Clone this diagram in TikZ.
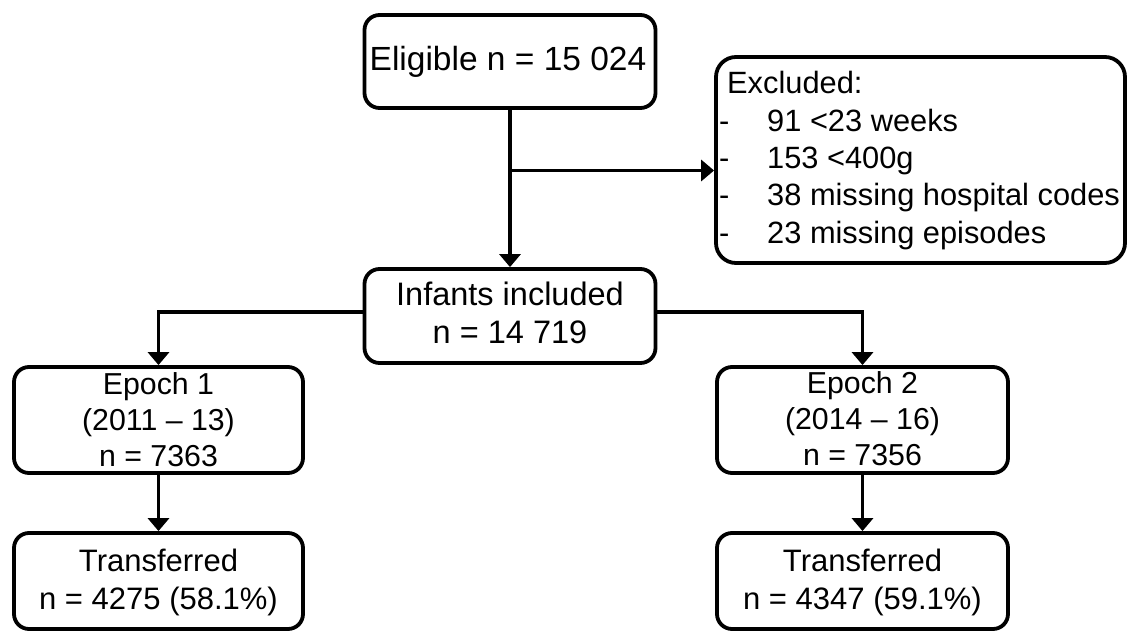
\documentclass[tikz,border=0pt]{standalone}
\usepackage{fontspec}
\setmainfont{Liberation Sans}
\usetikzlibrary{arrows.meta}
\begin{document}
\begin{tikzpicture}[x=1pt,y=-1pt,
  box/.style={draw=black, line width=3.8pt, rounded corners=15pt, inner sep=0pt},
  flow/.style={line width=3.8pt, -{Triangle[length=13pt,width=21pt]}},
  txt/.style={inner sep=0pt, anchor=base, font=\fontsize{30.3pt}{36pt}\selectfont},
]
\useasboundingbox (0,0) rectangle (1128,634);
\fill[white] (0,0) rectangle (1128,634);

% boxes
\node[box, minimum width=291pt, minimum height=93pt]  (elig) at (510,61.5) {};
\node[box, minimum width=409pt, minimum height=206pt, rounded corners=20pt] (excl) at (920.5,160) {};
\node[box, minimum width=291pt, minimum height=94pt]  (inc)  at (510,316) {};
\node[box, minimum width=289pt, minimum height=106pt] (ep1)  at (158.5,420) {};
\node[box, minimum width=291pt, minimum height=106pt] (ep2)  at (862.5,420) {};
\node[box, minimum width=289pt, minimum height=96pt]  (tr1)  at (158.5,581) {};
\node[box, minimum width=291pt, minimum height=96pt]  (tr2)  at (862.5,581) {};

% texts
\node[txt, font=\fontsize{33.5pt}{38pt}\selectfont] (eligt) at (508,71) {Eligible n = 15 024};
\node[txt, anchor=base west, font=\fontsize{30.8pt}{37.3pt}\selectfont] (exclt) at (719,94)
  {\begin{tabular}[t]{@{}l@{}l@{}}
   \multicolumn{2}{@{\hspace{8pt}}l@{}}{Excluded:}\\
   \makebox[48pt][l]{-} & 91 <23 weeks\\
   \makebox[48pt][l]{-} & 153 <400g\\
   \makebox[48pt][l]{-} & 38 missing hospital codes\\
   \makebox[48pt][l]{-} & 23 missing episodes
   \end{tabular}};
\node[txt, font=\fontsize{32.5pt}{38pt}\selectfont] (inct) at (510,305)
  {\begin{tabular}[t]{@{}c@{}}Infants included\\n = 14 719\end{tabular}};
\node[txt] (ep1t) at (158.5,394)
  {\begin{tabular}[t]{@{}c@{}}Epoch 1\\(2011 -- 13)\\n = 7363\end{tabular}};
\node[txt] (ep2t) at (862.5,393)
  {\begin{tabular}[t]{@{}c@{}}Epoch 2\\(2014 -- 16)\\n = 7356\end{tabular}};
\node[txt, font=\fontsize{31pt}{38.5pt}\selectfont] (tr1t) at (158.5,571)
  {\begin{tabular}[t]{@{}c@{}}Transferred\\n = 4275 (58.1\%)\end{tabular}};
\node[txt, font=\fontsize{31pt}{38.5pt}\selectfont] (tr2t) at (862.5,571)
  {\begin{tabular}[t]{@{}c@{}}Transferred\\n = 4347 (59.1\%)\end{tabular}};

% connectors
\coordinate (br) at (510,170.5);
\draw[flow] (elig.south) -- (inc.north);
\draw[flow] (br) -- (br -| excl.west);
\draw[flow] ([yshift=4pt]inc.west) -| (ep1.north);
\draw[flow] ([yshift=4pt]inc.east) -| (ep2.north);
\draw[flow] (ep1.south) -- (tr1.north);
\draw[flow] (ep2.south) -- (tr2.north);
\end{tikzpicture}
\end{document}
